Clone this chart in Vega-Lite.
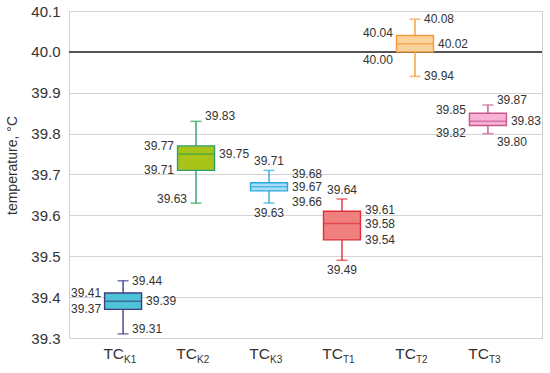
{
  "$schema": "https://vega.github.io/schema/vega-lite/v6.json",
  "width": 473,
  "height": 327,
  "autosize": {"type": "none"},
  "padding": {"left": 69, "top": 11, "right": 8, "bottom": 35},
  "background": "white",
  "config": {
    "view": {"stroke": "#cfcfcf", "strokeWidth": 1},
    "font": "Liberation Sans",
    "text": {"font": "Liberation Sans", "fontSize": 12, "color": "#333333", "baseline": "middle"}
  },
  "datasets": {
    "stats": [
      {"cat": "K1", "min": 39.31, "q1": 39.37, "med": 39.39, "q3": 39.41, "max": 39.44},
      {"cat": "K2", "min": 39.63, "q1": 39.71, "med": 39.75, "q3": 39.77, "max": 39.83},
      {"cat": "K3", "min": 39.63, "q1": 39.66, "med": 39.67, "q3": 39.68, "max": 39.71},
      {"cat": "T1", "min": 39.49, "q1": 39.54, "med": 39.58, "q3": 39.61, "max": 39.64},
      {"cat": "T2", "min": 39.94, "q1": 40.00, "med": 40.02, "q3": 40.04, "max": 40.08},
      {"cat": "T3", "min": 39.80, "q1": 39.82, "med": 39.83, "q3": 39.85, "max": 39.87}
    ],
    "capRight": [
      {"cat": "K1", "v": 39.44, "t": "39.44"},
      {"cat": "T2", "v": 40.08, "t": "40.08"},
      {"cat": "T2", "v": 39.94, "t": "39.94"}
    ],
    "capRightUp": [
      {"cat": "K1", "v": 39.31, "t": "39.31"},
      {"cat": "K2", "v": 39.83, "t": "39.83"},
      {"cat": "T3", "v": 39.87, "t": "39.87"}
    ],
    "capRightDown": [
      {"cat": "T3", "v": 39.80, "t": "39.80"}
    ],
    "boxRight": [
      {"cat": "K1", "v": 39.39, "t": "39.39"},
      {"cat": "K2", "v": 39.75, "t": "39.75"},
      {"cat": "K3", "v": 39.67, "t": "39.67"},
      {"cat": "T1", "v": 39.58, "t": "39.58"},
      {"cat": "T1", "v": 39.54, "t": "39.54"},
      {"cat": "T2", "v": 40.02, "t": "40.02"},
      {"cat": "T3", "v": 39.83, "t": "39.83"}
    ],
    "boxRightNudge": [
      {"cat": "T1", "v": 39.61, "t": "39.61"}
    ],
    "boxRightUp": [
      {"cat": "K3", "v": 39.68, "t": "39.68"}
    ],
    "boxRightDown": [
      {"cat": "K3", "v": 39.66, "t": "39.66"}
    ],
    "boxLeft": [
      {"cat": "K1", "v": 39.41, "t": "39.41"},
      {"cat": "K1", "v": 39.37, "t": "39.37"},
      {"cat": "K2", "v": 39.77, "t": "39.77"},
      {"cat": "K2", "v": 39.71, "t": "39.71"}
    ],
    "boxLeftUp": [
      {"cat": "T2", "v": 40.04, "t": "40.04"},
      {"cat": "T3", "v": 39.85, "t": "39.85"}
    ],
    "boxLeftDown": [
      {"cat": "T2", "v": 40.00, "t": "40.00"},
      {"cat": "T3", "v": 39.82, "t": "39.82"}
    ],
    "capLeft": [
      {"cat": "K2", "v": 39.63, "t": "39.63"}
    ],
    "capAbove": [
      {"cat": "K3", "v": 39.71, "t": "39.71"},
      {"cat": "T1", "v": 39.64, "t": "39.64"}
    ],
    "capBelow": [
      {"cat": "K3", "v": 39.63, "t": "39.63"},
      {"cat": "T1", "v": 39.49, "t": "39.49"}
    ],
    "subs": [
      {"cat": "K1", "main": "TC", "sub": "K1"},
      {"cat": "K2", "main": "TC", "sub": "K2"},
      {"cat": "K3", "main": "TC", "sub": "K3"},
      {"cat": "T1", "main": "TC", "sub": "T1"},
      {"cat": "T2", "main": "TC", "sub": "T2"},
      {"cat": "T3", "main": "TC", "sub": "T3"}
    ]
  },
  "encoding": {
    "x": {
      "field": "cat", "type": "nominal", "sort": ["K1", "K2", "K3", "T1", "T2", "T3"],
      "scale": {"domain": ["K1", "K2", "K3", "T1", "T2", "T3"], "paddingInner": 0.49, "paddingOuter": 0.486},
      "axis": {"title": null, "labels": false, "domain": false, "ticks": false, "grid": false}
    }
  },
  "layer": [
    {
      "data": {"name": "stats"},
      "mark": {"type": "rule", "color": "#555555", "strokeWidth": 1.5},
      "encoding": {
        "x": null,
        "y": {
          "datum": 40.0, "type": "quantitative",
          "scale": {"domain": [39.3, 40.1], "nice": false, "zero": false},
          "axis": {
            "title": "temperature, °C", "values": [39.3, 39.4, 39.5, 39.6, 39.7, 39.8, 39.9, 40.0, 40.1],
            "format": ".1f", "labelFontSize": 15, "labelFont": "Liberation Sans", "labelColor": "#333333",
            "labelPadding": 9, "domain": false, "ticks": false, "grid": true, "gridColor": "#d4d4d4",
            "titleFont": "Liberation Sans", "titleFontSize": 14, "titleFontWeight": "normal", "titleColor": "#333333",
            "titleX": -57, "titleY": 154, "titleAngle": -90, "titleAlign": "center", "titleBaseline": "middle"
          }
        }
      }
    },
    {
      "data": {"name": "stats"},
      "mark": {"type": "rule", "strokeWidth": 1.4},
      "encoding": {
        "y": {"field": "min", "type": "quantitative"},
        "y2": {"field": "max"},
        "stroke": {"field": "cat", "type": "nominal", "legend": null,
          "scale": {"domain": ["K1", "K2", "K3", "T1", "T2", "T3"], "range": ["#3d3f86", "#2e9e6e", "#2ba8e0", "#e0303a", "#f39a3a", "#c8558e"]}}
      }
    },
    {
      "data": {"name": "stats"},
      "mark": {"type": "bar", "strokeWidth": 1.4, "width": 37},
      "encoding": {
        "y": {"field": "q1", "type": "quantitative"},
        "y2": {"field": "q3"},
        "fill": {"field": "cat", "type": "nominal", "legend": null,
          "scale": {"domain": ["K1", "K2", "K3", "T1", "T2", "T3"], "range": ["#4ec3d5", "#a8c418", "#a7ddf7", "#f08080", "#fcd29c", "#f7b3d6"]}},
        "stroke": {"field": "cat", "type": "nominal", "legend": null}
      }
    },
    {
      "data": {"name": "stats"},
      "mark": {"type": "tick", "thickness": 1.5, "size": 37},
      "encoding": {
        "y": {"field": "med", "type": "quantitative"},
        "color": {"field": "cat", "type": "nominal", "legend": null,
          "scale": {"domain": ["K1", "K2", "K3", "T1", "T2", "T3"], "range": ["#3d3f86", "#2e9e4f", "#2ba8e0", "#e0303a", "#f39a3a", "#c8558e"]}}
      }
    },
    {
      "data": {"name": "stats"},
      "mark": {"type": "tick", "thickness": 1.5, "size": 11},
      "encoding": {
        "y": {"field": "min", "type": "quantitative"},
        "color": {"field": "cat", "type": "nominal", "legend": null}
      }
    },
    {
      "data": {"name": "stats"},
      "mark": {"type": "tick", "thickness": 1.5, "size": 11},
      "encoding": {
        "y": {"field": "max", "type": "quantitative"},
        "color": {"field": "cat", "type": "nominal", "legend": null}
      }
    },
    {
      "data": {"name": "capRight"},
      "mark": {"type": "text", "align": "left", "dx": 9, "dy": 0},
      "encoding": {"y": {"field": "v", "type": "quantitative"}, "text": {"field": "t"}}
    },
    {
      "data": {"name": "capRightUp"},
      "mark": {"type": "text", "align": "left", "dx": 9, "dy": -5},
      "encoding": {"y": {"field": "v", "type": "quantitative"}, "text": {"field": "t"}}
    },
    {
      "data": {"name": "capRightDown"},
      "mark": {"type": "text", "align": "left", "dx": 9, "dy": 8},
      "encoding": {"y": {"field": "v", "type": "quantitative"}, "text": {"field": "t"}}
    },
    {
      "data": {"name": "boxRight"},
      "mark": {"type": "text", "align": "left", "dx": 23, "dy": 0},
      "encoding": {"y": {"field": "v", "type": "quantitative"}, "text": {"field": "t"}}
    },
    {
      "data": {"name": "boxRightNudge"},
      "mark": {"type": "text", "align": "left", "dx": 23, "dy": -1.5},
      "encoding": {"y": {"field": "v", "type": "quantitative"}, "text": {"field": "t"}}
    },
    {
      "data": {"name": "boxRightUp"},
      "mark": {"type": "text", "align": "left", "dx": 23, "dy": -9},
      "encoding": {"y": {"field": "v", "type": "quantitative"}, "text": {"field": "t"}}
    },
    {
      "data": {"name": "boxRightDown"},
      "mark": {"type": "text", "align": "left", "dx": 23, "dy": 11},
      "encoding": {"y": {"field": "v", "type": "quantitative"}, "text": {"field": "t"}}
    },
    {
      "data": {"name": "boxLeft"},
      "mark": {"type": "text", "align": "right", "dx": -22, "dy": 0},
      "encoding": {"y": {"field": "v", "type": "quantitative"}, "text": {"field": "t"}}
    },
    {
      "data": {"name": "boxLeftUp"},
      "mark": {"type": "text", "align": "right", "dx": -22, "dy": -3},
      "encoding": {"y": {"field": "v", "type": "quantitative"}, "text": {"field": "t"}}
    },
    {
      "data": {"name": "boxLeftDown"},
      "mark": {"type": "text", "align": "right", "dx": -22, "dy": 8},
      "encoding": {"y": {"field": "v", "type": "quantitative"}, "text": {"field": "t"}}
    },
    {
      "data": {"name": "capLeft"},
      "mark": {"type": "text", "align": "right", "dx": -9, "dy": -4},
      "encoding": {"y": {"field": "v", "type": "quantitative"}, "text": {"field": "t"}}
    },
    {
      "data": {"name": "capAbove"},
      "mark": {"type": "text", "align": "center", "dy": -9},
      "encoding": {"y": {"field": "v", "type": "quantitative"}, "text": {"field": "t"}}
    },
    {
      "data": {"name": "capBelow"},
      "mark": {"type": "text", "align": "center", "dy": 10},
      "encoding": {"y": {"field": "v", "type": "quantitative"}, "text": {"field": "t"}}
    },
    {
      "data": {"name": "subs"},
      "mark": {"type": "text", "align": "right", "dx": 1, "dy": 16, "fontSize": 15.5},
      "encoding": {"y": {"datum": 39.3, "type": "quantitative"}, "text": {"field": "main"}}
    },
    {
      "data": {"name": "subs"},
      "mark": {"type": "text", "align": "left", "dx": 1, "dy": 22, "fontSize": 10},
      "encoding": {"y": {"datum": 39.3, "type": "quantitative"}, "text": {"field": "sub"}}
    }
  ]
}
